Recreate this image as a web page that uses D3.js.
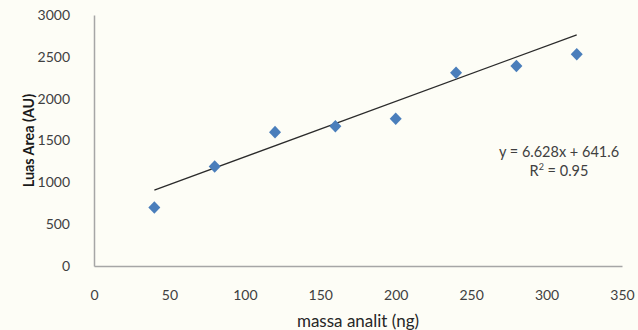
<!DOCTYPE html>
<html>
<head>
<meta charset="utf-8">
<script src="https://cdn.jsdelivr.net/npm/d3@7"></script>
<style>
  html, body { margin: 0; padding: 0; background: #fdfdf6; }
  svg { display: block; }
  text { font-family: Lato, "Open Sans", sans-serif; }
</style>
</head>
<body>
<svg id="chart" width="638" height="330"></svg>
<script>
// Calibration data: analyte mass (ng) vs. peak area (AU)
const massNg = [40, 80, 120, 160, 200, 240, 280, 320];
const areaAU = [700, 1190, 1600, 1670, 1760, 2310, 2390, 2530];

// Linear trendline as reported
const slope = 6.628;
const intercept = 641.6;
const rSquared = 0.95;

const xTicks = [0, 50, 100, 150, 200, 250, 300, 350];
const yTicks = [0, 500, 1000, 1500, 2000, 2500, 3000];

const svg = d3.select("#chart");
const W = 638, H = 330;
const m = { left: 94, right: 16, top: 15, bottom: 64 };

const x = d3.scaleLinear().domain([0, 350]).range([m.left, W - m.right]);
const y = d3.scaleLinear().domain([0, 3000]).range([H - m.bottom, m.top]);

const axisColor = "#a6a6a6";
const labelColor = "#404040";

// Axes (no tick marks, just lines and labels)
const xAxis = svg.append("g")
  .attr("transform", `translate(0,${y(0)})`)
  .call(d3.axisBottom(x).tickValues(xTicks).tickSize(0).tickPadding(24).tickFormat(d3.format("d")));
const yAxis = svg.append("g")
  .attr("transform", `translate(${x(0)},0)`)
  .call(d3.axisLeft(y).tickValues(yTicks).tickSize(0).tickPadding(24).tickFormat(d3.format("d")));

[xAxis, yAxis].forEach(g => {
  g.select(".domain").attr("stroke", axisColor).attr("stroke-width", 1.5);
  g.selectAll("text")
    .attr("fill", labelColor)
    .style("font-size", "14px")
    .style("font-family", "Lato, 'Open Sans', sans-serif");
});

// Axis titles
svg.append("text")
  .attr("x", (x(0) + x(350)) / 2)
  .attr("y", 327)
  .attr("text-anchor", "middle")
  .attr("fill", "#262626")
  .style("font-size", "17px")
  .text("massa analit (ng)");

svg.append("text")
  .attr("transform", `translate(34,${(y(0) + y(3000)) / 2}) rotate(-90)`)
  .attr("text-anchor", "middle")
  .attr("fill", "#1a1a1a")
  .style("font-size", "14.3px")
  .style("font-weight", "bold")
  .text("Luas Area (AU)");

// Trendline over the measured mass range
const xMin = d3.min(massNg), xMax = d3.max(massNg);
svg.append("line")
  .attr("x1", x(xMin)).attr("y1", y(slope * xMin + intercept))
  .attr("x2", x(xMax)).attr("y2", y(slope * xMax + intercept))
  .attr("stroke", "#2b2b2b")
  .attr("stroke-width", 1.3);

// Data points as diamond markers
const diamond = "M0,-6.3L6,0L0,6.3L-6,0Z";
svg.append("g").selectAll("path")
  .data(massNg.map((d, i) => [d, areaAU[i]]))
  .join("path")
  .attr("d", diamond)
  .attr("transform", d => `translate(${x(d[0])},${y(d[1])})`)
  .attr("fill", "#4a7ebb");

// Equation label
const eqX = 559;
const eq = svg.append("text")
  .attr("x", eqX)
  .attr("y", 157)
  .attr("text-anchor", "middle")
  .attr("fill", labelColor)
  .style("font-size", "14.5px");
eq.append("tspan").attr("x", eqX).text(`y = ${slope}x + ${intercept}`);
const r2 = eq.append("tspan").attr("x", eqX).attr("dy", 19);
r2.append("tspan").text("R");
r2.append("tspan").attr("dy", -6).style("font-size", "9px").text("2");
r2.append("tspan").attr("dy", 6).text(` = ${rSquared}`);
</script>
</body>
</html>
